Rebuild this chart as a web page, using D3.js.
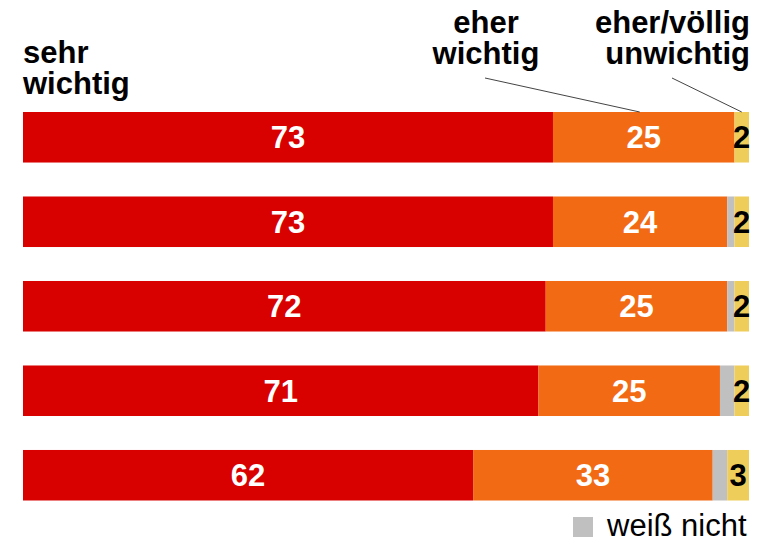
<!DOCTYPE html>
<html>
<head>
<meta charset="utf-8">
<script src="https://cdn.jsdelivr.net/npm/d3@7"></script>
<style>
  html, body { margin: 0; padding: 0; background: #fff; }
  svg { display: block; font-family: "Liberation Sans", Arial, sans-serif; }
</style>
</head>
<body>
<svg id="chart" width="769" height="542"></svg>
<script>
// Data
const rows = ["r1", "r2", "r3", "r4", "r5"];
const sehrWichtig = [73, 73, 72, 71, 62];
const eherWichtig = [25, 24, 25, 25, 33];
const weissNicht = [0, 1, 1, 2, 2];
const unwichtig = [2, 2, 2, 2, 3];
const seriesKeys = ["sehr", "eher", "wn", "unw"];
const seriesColors = ["#d90000", "#f26a13", "#c0c0c0", "#efcd5b"];
const labelColors = ["#ffffff", "#ffffff", null, "#000000"];
const headerSehr = ["sehr", "wichtig"];
const headerEher = ["eher", "wichtig"];
const headerUnw = ["eher/völlig", "unwichtig"];
const legendLabel = "weiß nicht";

const table = rows.map((r, i) => ({
  row: r, sehr: sehrWichtig[i], eher: eherWichtig[i], wn: weissNicht[i], unw: unwichtig[i]
}));
const stacked = d3.stack().keys(seriesKeys)(table);

const svg = d3.select("#chart");
const x = d3.scaleLinear().domain([0, 100]).range([23, 749]);
const y = d3.scaleBand().domain(rows).range([112, 500.5]).paddingInner(0.402).paddingOuter(0);

const layers = svg.selectAll("g.layer").data(stacked).enter().append("g")
  .attr("class", "layer")
  .attr("fill", (d, i) => seriesColors[i]);

layers.selectAll("rect").data(d => d).enter().append("rect")
  .attr("x", d => x(d[0]))
  .attr("width", d => x(d[1]) - x(d[0]))
  .attr("y", d => y(d.data.row))
  .attr("height", y.bandwidth());

// value labels
stacked.forEach((layer, li) => {
  if (!labelColors[li]) return;
  svg.append("g").selectAll("text").data(layer.filter(d => d[1] - d[0] > 0)).enter().append("text")
    .attr("x", d => (x(d[0]) + x(d[1])) / 2)
    .attr("y", d => y(d.data.row) + y.bandwidth() / 2 + 11)
    .attr("text-anchor", "middle")
    .attr("font-size", 31)
    .attr("font-weight", "bold")
    .attr("fill", labelColors[li])
    .text(d => d[1] - d[0]);
});

// headers
function header(lines, xPos, baseline, anchor) {
  const t = svg.append("text")
    .attr("font-size", 31).attr("font-weight", "bold").attr("fill", "#000")
    .attr("text-anchor", anchor);
  lines.forEach((l, i) => {
    t.append("tspan").attr("x", xPos).attr("y", baseline + i * 31).text(l);
  });
}
header(headerSehr, 23, 63, "start");
header(headerEher, 486, 33, "middle");
header(headerUnw, 750, 33, "end");

// leader lines
const first = stacked.map(l => l[0]);
svg.append("line")
  .attr("x1", 485).attr("y1", 78)
  .attr("x2", (x(first[1][0]) + x(first[1][1])) / 2 - 4).attr("y2", y(rows[0]))
  .attr("stroke", "#444").attr("stroke-width", 1);
svg.append("line")
  .attr("x1", 672).attr("y1", 78)
  .attr("x2", (x(first[3][0]) + x(first[3][1])) / 2).attr("y2", y(rows[0]))
  .attr("stroke", "#444").attr("stroke-width", 1);

// legend
svg.append("rect").attr("x", 573).attr("y", 517).attr("width", 20).attr("height", 20)
  .attr("fill", seriesColors[2]);
svg.append("text").attr("x", 607).attr("y", 536)
  .attr("font-size", 31).attr("fill", "#000").text(legendLabel);
</script>
</body>
</html>
